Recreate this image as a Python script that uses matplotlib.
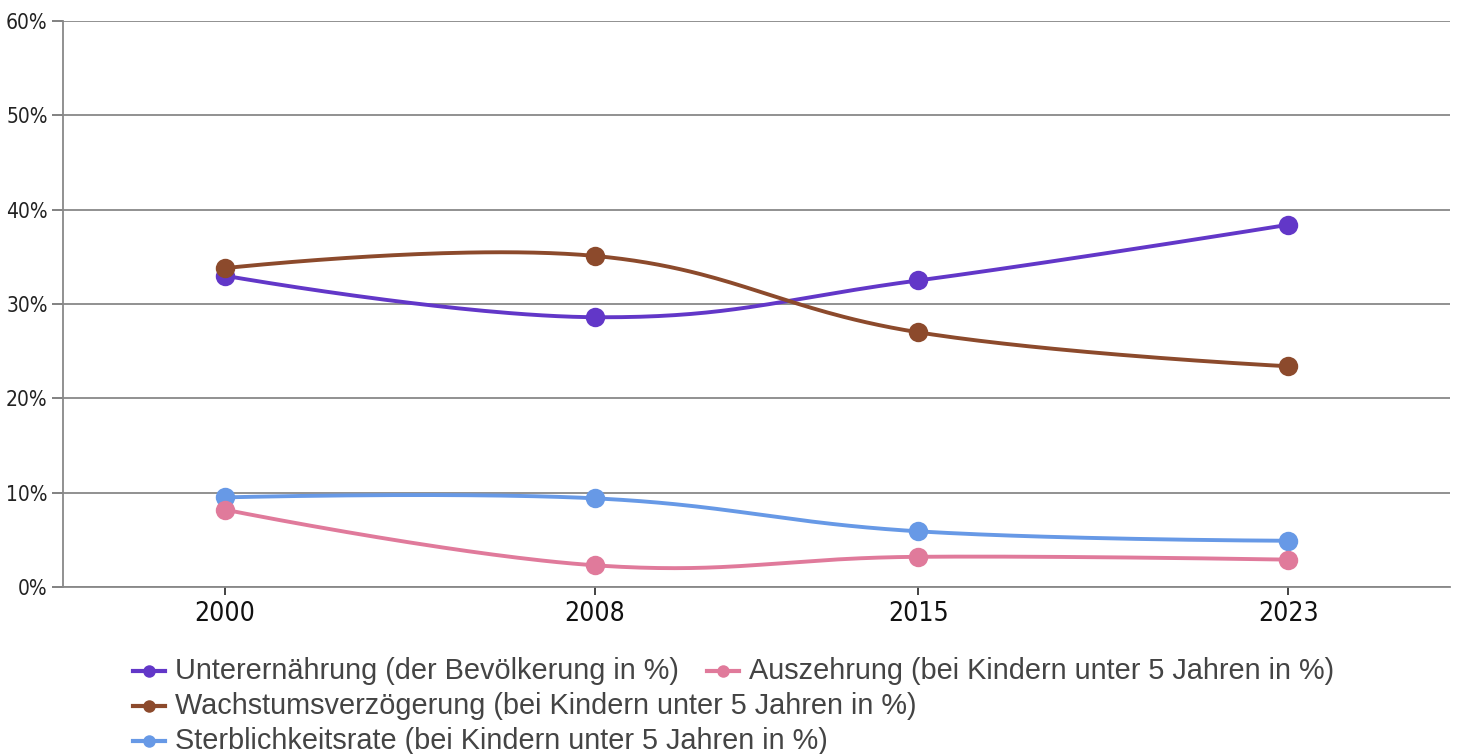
import matplotlib
matplotlib.use('Agg')
import matplotlib.pyplot as plt
from matplotlib.font_manager import fontManager
from matplotlib.lines import Line2D
import numpy as np

years = [2000, 2008, 2015, 2023]
unterernaehrung = [33.0, 28.6, 32.5, 38.4]
wachstum = [33.8, 35.1, 27.0, 23.4]
auszehrung = [8.2, 2.3, 3.2, 2.9]
sterblichkeit = [9.5, 9.4, 5.9, 4.9]

labels = ['Unterernährung (der Bevölkerung in %)',
          'Auszehrung (bei Kindern unter 5 Jahren in %)',
          'Wachstumsverzögerung (bei Kindern unter 5 Jahren in %)',
          'Sterblichkeitsrate (bei Kindern unter 5 Jahren in %)']
y_ticks = [0, 10, 20, 30, 40, 50, 60]

col_purple = '#6237c8'
col_pink = '#e07a9b'
col_brown = '#8c4a2c'
col_blue = '#6799e6'

# condensed tick font if there is one, otherwise plain DejaVu sized to the same width
condensed = any(f.name == 'DejaVu Sans' and f.stretch == 'condensed' for f in fontManager.ttflist)
if condensed:
    tick_kw = dict(family='DejaVu Sans', fontstretch='condensed')
    xsize, ysize = 19, 15
else:
    tick_kw = dict(family='DejaVu Sans')
    xsize, ysize = 17, 13.5
legend_font = 'Liberation Sans'


def smooth(xs, ys, t=0.2, n=60):
    # bezier through the points, control points from neighbours
    xs = np.asarray(xs, float)
    ys = np.asarray(ys, float)
    px, py = [], []
    for i in range(len(xs) - 1):
        x0, y0 = xs[i], ys[i]
        x3, y3 = xs[i + 1], ys[i + 1]
        if i > 0:
            x1 = x0 + (xs[i + 1] - xs[i - 1]) * t
            y1 = y0 + (ys[i + 1] - ys[i - 1]) * t
        else:
            x1, y1 = x0, y0
        if i + 2 < len(xs):
            x2 = x3 - (xs[i + 2] - xs[i]) * t
            y2 = y3 - (ys[i + 2] - ys[i]) * t
        else:
            x2, y2 = x3, y3
        s = np.linspace(0, 1, n)
        a, b, c, d = (1 - s) ** 3, 3 * s * (1 - s) ** 2, 3 * s ** 2 * (1 - s), s ** 3
        px.extend(a * x0 + b * x1 + c * x2 + d * x3)
        py.extend(a * y0 + b * y1 + c * y2 + d * y3)
    return px, py


fig = plt.figure(figsize=(14.62, 7.54), dpi=100)
ax = fig.add_axes([0.0431, 0.2215, 0.9487, 0.7506])

series = [(unterernaehrung, col_purple), (wachstum, col_brown),
          (sterblichkeit, col_blue), (auszehrung, col_pink)]
for vals, col in series:
    sx, sy = smooth(years, vals)
    ax.plot(sx, sy, color=col, lw=2.8, solid_capstyle='round', zorder=3)
    ax.plot(years, vals, 'o', color=col, ms=14, mew=0, zorder=4)

ax.set_xlim(1996.5, 2026.5)
ax.set_ylim(0, 60)
ax.set_xticks(years)
ax.set_xticklabels([str(y) for y in years], fontsize=xsize, color='#111111', **tick_kw)
ax.set_yticks(y_ticks)
ax.set_yticklabels([f'{v}%' for v in y_ticks], fontsize=ysize, color='#222222', **tick_kw)
ax.tick_params(axis='x', length=6, width=1.2, color='#222222', pad=4)
ax.tick_params(axis='y', length=8, width=1.3, color='#777777', pad=3)
ax.grid(axis='y', color='#888888', lw=1.3)
ax.set_axisbelow(True)
for side in ['top', 'right']:
    ax.spines[side].set_visible(False)
for side in ['left', 'bottom']:
    ax.spines[side].set_color('#888888')
    ax.spines[side].set_linewidth(1.3)

# legend laid out like the original: two entries in the first row
legend_pos = [(133, 671), (707, 671), (133, 706), (133, 741)]
legend_cols = [col_purple, col_pink, col_brown, col_blue]
W, H = 1462, 754
for (lx, ly), lab, col in zip(legend_pos, labels, legend_cols):
    fy = 1 - ly / H
    fig.add_artist(Line2D([lx / W, (lx + 32) / W], [fy, fy], color=col, lw=3,
                          transform=fig.transFigure))
    fig.add_artist(Line2D([(lx + 16) / W], [fy], marker='o', ms=9, mew=0, color=col,
                          transform=fig.transFigure))
    fig.text((lx + 42) / W, fy, lab, fontsize=20.8, family=legend_font, color='#444444',
             va='center', ha='left')

fig.savefig('out.png', dpi=100)
